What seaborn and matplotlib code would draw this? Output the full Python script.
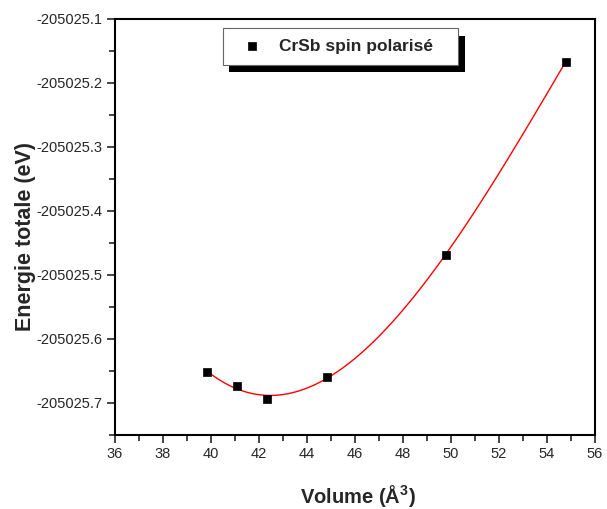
import numpy as np
import pandas as pd
import matplotlib
matplotlib.use('Agg')
import matplotlib.pyplot as plt
from matplotlib import patheffects
from matplotlib.ticker import MultipleLocator, FormatStrFormatter
import seaborn as sns

# volume (A^3) et energie totale (eV)
volume = [39.83, 41.07, 42.32, 44.82, 49.79, 54.78]
energie = [-205025.651, -205025.673, -205025.694, -205025.659, -205025.468, -205025.167]
serie = 'CrSb spin polarisé'

df = pd.DataFrame({'volume': volume, 'energie': energie})

sns.set_style('ticks')
plt.rcParams['font.family'] = ['Liberation Sans', 'DejaVu Sans']
plt.rcParams['mathtext.fontset'] = 'custom'
plt.rcParams['mathtext.bf'] = 'Liberation Sans:bold'
plt.rcParams['mathtext.rm'] = 'Liberation Sans'

fig = plt.figure(figsize=(6.07, 5.09), dpi=100)
ax = fig.add_axes([0.1895, 0.1454, 0.7905, 0.8173])

# courbe d'ajustement
sns.regplot(data=df, x='volume', y='energie', order=3, ci=None, scatter=False,
            truncate=True, color='red', line_kws={'linewidth': 1}, ax=ax)
sns.scatterplot(data=df, x='volume', y='energie', marker='s', s=30, color='black',
                edgecolor='black', linewidth=0.5, label=serie + '   ', ax=ax, zorder=3)

ax.set_xlim(36, 56)
ax.set_ylim(-205025.75, -205025.1)
ax.xaxis.set_major_locator(MultipleLocator(2))
ax.xaxis.set_minor_locator(MultipleLocator(1))
ax.yaxis.set_major_locator(MultipleLocator(0.1))
ax.yaxis.set_minor_locator(MultipleLocator(0.05))
ax.yaxis.set_major_formatter(FormatStrFormatter('%.1f'))
ax.xaxis.set_major_formatter(FormatStrFormatter('%d'))

ax.tick_params(which='major', direction='out', length=6, width=1.2, labelsize=10.5, pad=3)
ax.tick_params(which='minor', direction='out', length=4, width=1.2)
for s in ax.spines.values():
    s.set_visible(True)
    s.set_linewidth(1.5)
    s.set_color('black')

ax.set_xlabel('Volume (Å$^\\mathbf{3}$)', fontsize=14.5, fontweight='bold')
ax.set_ylabel('Energie totale (eV)', fontsize=15.5, fontweight='bold')
ax.xaxis.set_label_coords(0.507, -0.115)
ax.yaxis.set_label_coords(-0.165, 0.478)

leg = ax.legend(loc='upper left', bbox_to_anchor=(0.225, 0.978), borderaxespad=0,
                frameon=True, fancybox=False,
                prop={'weight': 'bold', 'size': 12.5},
                handletextpad=0.5, borderpad=0.62, handlelength=2.1)
cadre = leg.get_frame()
cadre.set_edgecolor('#666666')
cadre.set_linewidth(0.8)
cadre.set_alpha(1)
cadre.set_path_effects([patheffects.SimplePatchShadow(offset=(4.5, -5.5), shadow_rgbFace='black', alpha=1),
                        patheffects.Normal()])

fig.savefig('out.png', dpi=100)
